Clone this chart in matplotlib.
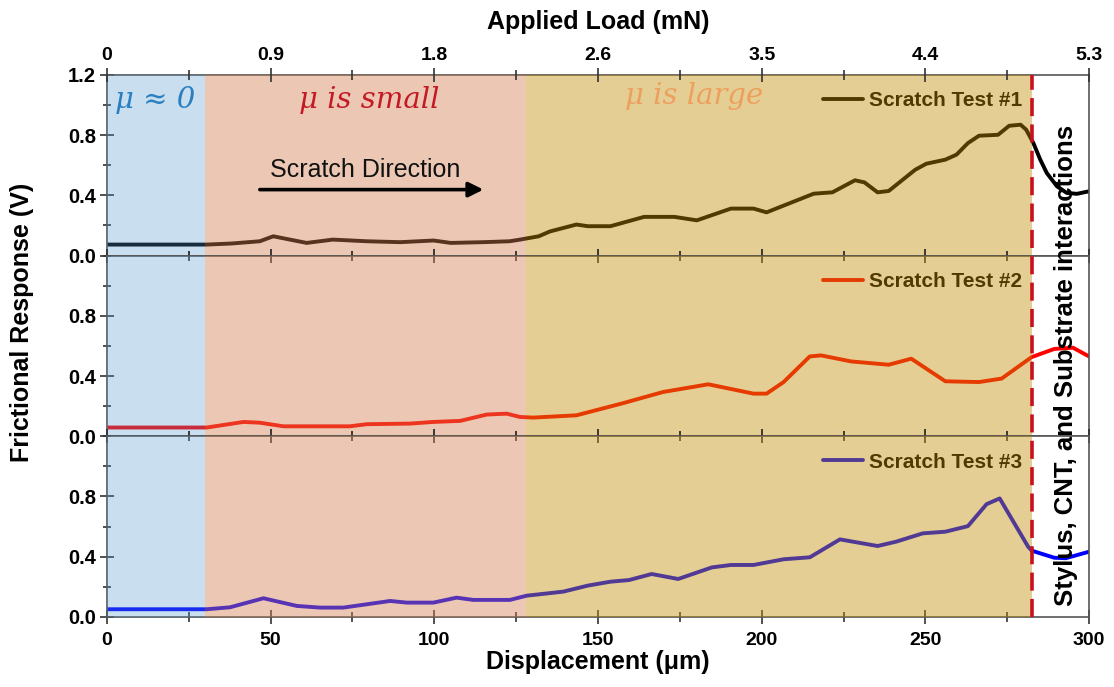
import matplotlib
matplotlib.use("Agg")
import matplotlib.pyplot as plt
from matplotlib.lines import Line2D
from matplotlib.ticker import MultipleLocator
from matplotlib.transforms import blended_transform_factory

plt.rcParams["font.family"] = ["Liberation Sans", "DejaVu Sans"]
plt.rcParams["font.weight"] = "bold"

# displacement (um) vs frictional response (V)
disp1 = [0, 30.5, 38, 46.7, 50.8, 61, 69, 79.4, 89.6, 99.8, 105, 115, 123, 126.2,
         131.9, 135.3, 143.4, 146.9, 153.8, 164.1, 173.3, 180.2, 190.6, 197.5, 201.5,
         215.9, 221.6, 228.5, 231.4, 235.4, 238.8, 246.9, 250.3, 256.1, 259.5, 263,
         266.4, 272.2, 275.6, 279.1, 280.8, 283, 285.1, 287.1, 290.2, 293.2, 296.3, 300]
resp1 = [0.073, 0.073, 0.08, 0.095, 0.128, 0.084, 0.106, 0.095, 0.089, 0.1, 0.084,
         0.089, 0.095, 0.106, 0.128, 0.16, 0.206, 0.195, 0.195, 0.257, 0.257, 0.234,
         0.312, 0.312, 0.287, 0.411, 0.42, 0.5, 0.486, 0.42, 0.429, 0.57, 0.61, 0.637,
         0.67, 0.747, 0.796, 0.802, 0.862, 0.869, 0.836, 0.747, 0.637, 0.548, 0.46,
         0.416, 0.41, 0.427]

disp2 = [0, 30.5, 41.7, 46.7, 53.9, 74.2, 79.3, 92.6, 99.7, 107.9, 116, 122.1, 126.2,
         130.3, 143.4, 157.2, 169.9, 183.7, 197.5, 201.5, 206.7, 214.7, 218.1, 227.3,
         238.8, 245.7, 256.1, 266.4, 273.3, 282.5, 289.4, 295.1, 300]
resp2 = [0.058, 0.058, 0.095, 0.09, 0.066, 0.066, 0.08, 0.084, 0.095, 0.102, 0.144,
         0.15, 0.128, 0.124, 0.139, 0.217, 0.294, 0.345, 0.283, 0.283, 0.36, 0.53,
         0.537, 0.497, 0.475, 0.515, 0.365, 0.36, 0.383, 0.526, 0.58, 0.588, 0.53]

disp3 = [0, 30.5, 37.6, 47.8, 58, 65.1, 72.2, 86.5, 91.6, 99.7, 106.8, 111.9, 123.1,
         128.2, 139.4, 146.9, 153.8, 159.5, 166.4, 174.5, 184.8, 190.6, 197.5, 206.7,
         214.7, 223.9, 235.4, 241.1, 249.2, 256.1, 263, 268.7, 272.7, 281.4, 282.5,
         289.4, 292.9, 300]
resp3 = [0.051, 0.051, 0.064, 0.124, 0.073, 0.062, 0.062, 0.106, 0.095, 0.095, 0.128,
         0.113, 0.113, 0.141, 0.168, 0.208, 0.234, 0.245, 0.285, 0.252, 0.329, 0.345,
         0.345, 0.383, 0.396, 0.515, 0.471, 0.5, 0.555, 0.566, 0.603, 0.749, 0.787,
         0.466, 0.44, 0.393, 0.39, 0.433]

labels = ["Scratch Test #1", "Scratch Test #2", "Scratch Test #3"]
line_colors = ["black", "#ff0000", "#0000ff"]

# friction regimes along the scratch (um)
regime_edges = [0, 30, 128, 282.5]
regime_colors = ["#4e94cd", "#d47e4c", "#c18c00"]
regime_alpha = [0.30, 0.42, 0.42]
regime_names = ["\u03bc \u2248 0", "\u03bc is small", "\u03bc is large"]
regime_text_colors = ["#2a7fc0", "#c41a24", "#eda05e"]
transition_x = 282.5

disp_ticks = [0, 50, 100, 150, 200, 250, 300]
load_labels = ["0", "0.9", "1.8", "2.6", "3.5", "4.4", "5.3"]

fig, axes = plt.subplots(3, 1, figsize=(11.14, 6.87), dpi=100, sharex=True,
                         gridspec_kw=dict(hspace=0))
fig.subplots_adjust(left=0.096, right=0.9776, top=0.891, bottom=0.102)

series = [(disp1, resp1), (disp2, resp2), (disp3, resp3)]
for i, ax in enumerate(axes):
    x, y = series[i]
    ax.plot(x, y, color=line_colors[i], lw=2.8, label=labels[i], zorder=2,
            solid_capstyle="round")
    # shading sits on top of the traces, which tints them like the original
    for j in range(3):
        ax.axvspan(regime_edges[j], regime_edges[j + 1], color=regime_colors[j],
                   alpha=regime_alpha[j], lw=0, zorder=4)
    ax.set_xlim(0, 300)
    ax.set_ylim(0, 1.2)
    ax.xaxis.set_major_locator(MultipleLocator(50))
    ax.xaxis.set_minor_locator(MultipleLocator(25))
    ax.set_yticks([0, 0.4, 0.8, 1.2] if i == 0 else [0, 0.4, 0.8])
    ax.yaxis.set_minor_locator(MultipleLocator(0.2))
    ax.set_yticklabels(["0.0", "0.4", "0.8", "1.2"] if i == 0 else ["0.0", "0.4", "0.8"])
    ax.tick_params(axis="x", which="major", direction="inout", length=10, width=1.2,
                   colors="#333333", top=True, labelsize=14, pad=6)
    ax.tick_params(axis="x", which="minor", direction="inout", length=7, width=1.2,
                   colors="#333333", top=True)
    ax.tick_params(axis="y", which="major", direction="inout", length=10, width=1.2,
                   colors="#333333", labelsize=14.5, pad=3)
    ax.tick_params(axis="y", which="minor", direction="inout", length=6, width=1.2,
                   colors="#333333")
    ax.tick_params(labelcolor="black")
    for s in ax.spines.values():
        s.set_color("#555555")
        s.set_linewidth(1.2)
    leg = ax.legend(loc="center right", bbox_to_anchor=(0.932, 0.856), frameon=False,
                    prop=dict(size=15, weight="bold"), handlelength=1.9,
                    handletextpad=0.3, borderpad=0, borderaxespad=0)
    leg.set_zorder(3)

ax1 = axes[0]
axes[2].set_xticks(disp_ticks)
axes[2].set_xticklabels([str(t) for t in disp_ticks])

top = ax1.twiny()
top.set_xlim(0, 300)
top.set_xticks(disp_ticks)
top.set_xticklabels(load_labels)
top.xaxis.set_minor_locator(MultipleLocator(25))
top.tick_params(which="major", direction="inout", length=10, width=1.2,
                colors="#333333", labelcolor="black", labelsize=14, pad=3)
top.tick_params(which="minor", direction="inout", length=7, width=1.2, colors="#333333")
for s in top.spines.values():
    s.set_visible(False)

# regime labels
serif = ["DejaVu Serif", "Liberation Serif"]
ax1.text(regime_edges[0] + 2.5, 1.03, regime_names[0], color=regime_text_colors[0],
         fontsize=21, family=serif, style="italic", fontweight="normal",
         ha="left", va="center", zorder=7)
ax1.text(80, 1.03, regime_names[1], color=regime_text_colors[1], fontsize=21,
         family=serif, style="italic", fontweight="normal",
         ha="center", va="center", zorder=7)
ax1.text(179.5, 1.06, regime_names[2], color=regime_text_colors[2], fontsize=21,
         family=serif, style="italic", fontweight="normal",
         ha="center", va="center", zorder=7)

ax1.annotate("", xy=(115, 0.438), xytext=(46.7, 0.438),
             arrowprops=dict(arrowstyle="-|>", lw=2.6, color="black", mutation_scale=22,
                             shrinkA=0, shrinkB=0), zorder=7)
ax1.text(79, 0.565, "Scratch Direction", fontsize=18, fontweight="normal",
         ha="center", va="center", color="#111111", zorder=7)

# failure onset marker through all three panels
trans = blended_transform_factory(ax1.transData, fig.transFigure)
fig.add_artist(Line2D([transition_x, transition_x], [0.102, 0.891], transform=trans,
                      color="#c8101e", lw=2.6, ls=(0, (5, 2.3)), zorder=8))

fig.text(0.957, 0.468, "Stylus, CNT, and Substrate interactions", rotation=90,
         ha="center", va="center", fontsize=18.5, fontweight="bold")
fig.text(0.02, 0.531, "Frictional Response (V)", rotation=90, ha="center",
         va="center", fontsize=18, fontweight="bold")
fig.text(0.537, 0.036, "Displacement (\u03bcm)", ha="center", va="center",
         fontsize=18, fontweight="bold")
fig.text(0.537, 0.968, "Applied Load (mN)", ha="center", va="center",
         fontsize=18, fontweight="bold")

fig.savefig("out.png", dpi=100)
